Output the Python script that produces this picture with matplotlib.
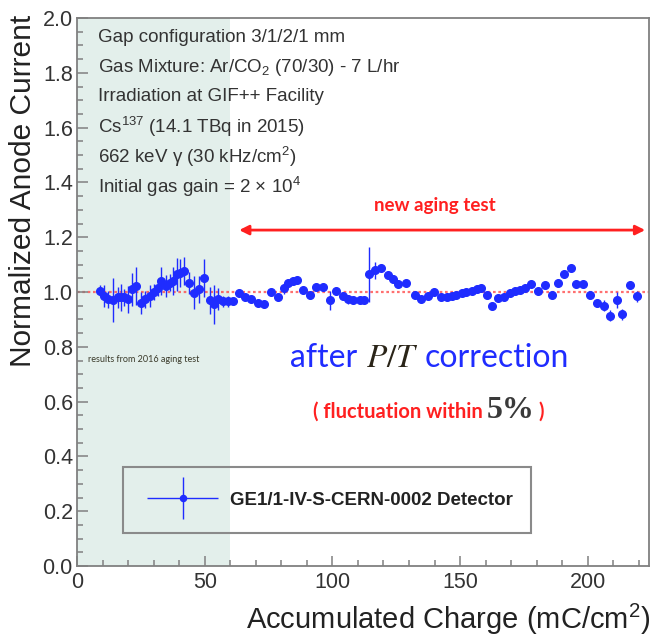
import matplotlib
matplotlib.use("Agg")
import matplotlib.pyplot as plt
import numpy as np
from matplotlib.ticker import MultipleLocator, FormatStrFormatter
from matplotlib.legend_handler import HandlerErrorbar

# ── data ───────────────────────────────────────────────────────────────
charge = [9.1, 10.7, 12.3, 14.0, 16.0, 17.2, 18.5, 20.1, 21.4, 23.1, 25.1, 26.7,
          28.4, 30.3, 31.9, 32.9, 34.9, 36.6, 37.5, 39.2, 40.5, 41.8, 43.7, 45.7,
          47.6, 49.9, 51.9, 53.6, 55.2, 57.1, 59.1, 61.0,
          63.6, 65.6, 68.2, 70.8, 73.4, 76.1, 78.7, 81.0, 82.6, 84.6, 86.3, 88.5,
          91.1, 93.7, 96.3, 98.9, 101.6, 104.2, 106.1, 108.1, 110.7, 112.4, 114.2,
          116.6, 118.9, 121.6, 123.8, 125.7,
          129.0, 132.3, 134.9, 137.3, 139.9, 142.5, 144.7, 146.7, 148.6, 150.6,
          152.5, 154.5, 156.5, 158.2, 160.4, 162.6, 165.0, 167.3, 169.5, 171.5,
          173.4, 175.4, 177.8, 180.6, 183.3, 185.9, 188.2, 190.9, 193.5, 195.3,
          198.3, 200.9, 203.5, 206.2, 208.8, 211.4, 213.6, 216.6, 219.2]
current = [1.004, 0.985, 0.973, 0.970, 0.980, 0.980, 0.980, 0.973, 1.010, 1.022, 0.960, 0.973,
           0.985, 1.000, 1.016, 1.040, 1.022, 1.034, 1.040, 1.064, 1.070, 1.076, 1.034, 0.998,
           1.010, 1.052, 0.970, 0.955, 0.973, 0.967, 0.967, 0.967,
           0.998, 0.980, 0.973, 0.961, 0.955, 1.000, 0.982, 1.013, 1.034, 1.040, 1.044, 1.006,
           0.990, 1.020, 1.020, 0.970, 1.004, 0.985, 0.973, 0.970, 0.970, 0.970, 1.064,
           1.079, 1.088, 1.062, 1.046, 1.028,
           1.034, 0.990, 0.973, 0.985, 1.000, 0.980, 0.982, 0.985, 0.989, 0.998,
           1.000, 1.004, 1.010, 1.013, 0.989, 0.949, 0.977, 0.980, 0.998, 1.004,
           1.007, 1.016, 1.028, 1.004, 1.025, 0.989, 1.034, 1.067, 1.088, 1.031,
           1.031, 0.989, 0.961, 0.949, 0.913, 0.970, 0.919, 1.025, 0.985]
current_err = [0.02, 0.04, 0.03, 0.08, 0.04, 0.05, 0.03, 0.05, 0.06, 0.07, 0.04, 0.03,
               0.04, 0.03, 0.03, 0.05, 0.04, 0.03, 0.05, 0.06, 0.05, 0.05, 0.04, 0.06,
               0.05, 0.07, 0.05, 0.07, 0.04, 0.02, 0.02, 0.01,
               0.01, 0.01, 0.01, 0.01, 0.01, 0.01, 0.01, 0.02, 0.01, 0.01, 0.01, 0.01,
               0.01, 0.01, 0.01, 0.035, 0.01, 0.01, 0.015, 0.01, 0.01, 0.01, 0.10,
               0.03, 0.01, 0.01, 0.01, 0.01,
               0.01, 0.01, 0.01, 0.01, 0.01, 0.01, 0.01, 0.01, 0.01, 0.01,
               0.01, 0.01, 0.01, 0.01, 0.01, 0.01, 0.01, 0.01, 0.01, 0.01,
               0.01, 0.01, 0.01, 0.01, 0.01, 0.01, 0.01, 0.01, 0.01, 0.01,
               0.01, 0.01, 0.015, 0.02, 0.02, 0.03, 0.02, 0.015, 0.02]

old_test_end = 60          # charge reached in the 2016 aging test
new_test_span = [63.5, 222.5]
info_lines = [
    "Gap configuration 3/1/2/1 mm",
    "Gas Mixture: Ar/CO$_2$ (70/30) - 7 L/hr",
    "Irradiation at GIF++ Facility",
    "Cs$^{137}$ (14.1 TBq in 2015)",
    "662 keV γ (30 kHz/cm$^2$)",
    "Initial gas gain = 2 × 10$^4$",
]

BLUE = "#1f2cff"
RED = "#ff2020"
GREY = "#333333"
FRAME = "#808080"

plt.rcParams.update({
    "font.family": ["Liberation Sans", "DejaVu Sans"],
    "mathtext.fontset": "custom",
    "mathtext.rm": "Liberation Sans",
    "mathtext.it": "Liberation Sans:italic",
})

fig = plt.figure(figsize=(6.52, 6.36), dpi=100)
ax = fig.add_axes([77 / 652, 70 / 636, 572 / 652, 548 / 636])

ax.axvspan(0, old_test_end, color="#e3efeb", lw=0, zorder=0)
ax.axhline(1.0, color="#ff4040", ls=(0, (1.2, 1.2)), lw=1.6, alpha=0.75, zorder=1)

eb = ax.errorbar(charge, current, yerr=current_err, xerr=np.zeros(len(charge)),
                 fmt="o", ms=5.5, color=BLUE, ecolor=BLUE, elinewidth=1.0,
                 capsize=0, label="GE1/1-IV-S-CERN-0002 Detector", zorder=3)

ax.set_xlim(0, 224)
ax.set_ylim(0, 2.0)
ax.xaxis.set_major_locator(MultipleLocator(50))
ax.xaxis.set_minor_locator(MultipleLocator(10))
ax.yaxis.set_major_locator(MultipleLocator(0.2))
ax.yaxis.set_minor_locator(MultipleLocator(0.05))
ax.yaxis.set_major_formatter(FormatStrFormatter("%.1f"))
ax.tick_params(which="both", direction="in", colors=FRAME, labelcolor=GREY,
               labelsize=15.5, width=1.1)
ax.tick_params(axis="y", which="major", length=8, pad=3)
ax.tick_params(axis="y", which="minor", length=4.5)
ax.tick_params(axis="x", which="major", length=7, pad=4)
ax.tick_params(axis="x", which="minor", length=4)
for s in ax.spines.values():
    s.set_color(FRAME)
    s.set_linewidth(1.3)

fig.text(23 / 652, 1 - 15 / 636, "Normalized Anode Current", rotation=90,
         fontsize=21.5, color="#222222", ha="center", va="top")
fig.text(650 / 652, 1 - 619 / 636, "Accumulated Charge (mC/cm$^2$)",
         fontsize=21, color="#222222", ha="right", va="center")

# setup description
for i, line in enumerate(info_lines):
    ax.text(0.0365, 0.965 - i * 0.0545, line, transform=ax.transAxes,
            fontsize=13.5, color=GREY, va="center", ha="left")

ax.text(0.019, 0.376, "results from 2016 aging test", transform=ax.transAxes,
        fontsize=6.5, family="Lato", color="#3a3a2a", va="center")

# new aging test range
ax.annotate("", xy=(new_test_span[1], 1.226), xytext=(new_test_span[0], 1.226),
            arrowprops=dict(arrowstyle="<|-|>", color=RED, lw=2.0,
                            mutation_scale=14, shrinkA=0, shrinkB=0))
ax.text(0.625, 0.657, "new aging test", transform=ax.transAxes, fontsize=13.5,
        family="Lato", fontweight="bold", color=RED, ha="center", va="center")


def chain(pieces, x0, y0):
    t = ax.text(x0, y0, pieces[0][0], transform=ax.transAxes, ha="left",
                va="baseline", **pieces[0][2])
    for s, gap, kw in pieces[1:]:
        t = ax.annotate(s, xy=(1, y0), xycoords=(t, "axes fraction"),
                        xytext=(gap, 0), textcoords="offset points",
                        ha="left", va="baseline", **kw)


chain([
    ("after", 0, dict(fontsize=23, family="Lato", color=BLUE)),
    ("$P/T$", 6, dict(fontsize=24, color="#2a2418", math_fontfamily="stix")),
    ("correction", 4, dict(fontsize=23, family="Lato", color=BLUE)),
], 0.373, 0.363)

chain([
    ("( fluctuation within", 0, dict(fontsize=14.5, family="Lato", fontweight="bold", color=RED)),
    ("5%", 3, dict(fontsize=23, family="Liberation Serif", fontweight="bold", color="#3a3a3a")),
    (")", 3, dict(fontsize=14.5, family="Lato", fontweight="bold", color=RED)),
], 0.412, 0.270)

leg = ax.legend(handles=[eb], loc="lower left", mode="expand",
                bbox_to_anchor=(0.08, 0.0602, 0.7133, 0.128),
                borderaxespad=0, borderpad=1.3, handlelength=3.8, handletextpad=0.6,
                fancybox=False, framealpha=1, edgecolor="#8a8a8a",
                prop=dict(family="Liberation Sans", weight="bold", size=13.5),
                markerscale=0.8,
                handler_map={type(eb): HandlerErrorbar(xerr_size=1.9, yerr_size=1.1)})
leg.get_frame().set_facecolor("none")
leg.get_frame().set_linewidth(1.5)
for txt in leg.get_texts():
    txt.set_color("#222222")

fig.savefig("out.png", dpi=100)
